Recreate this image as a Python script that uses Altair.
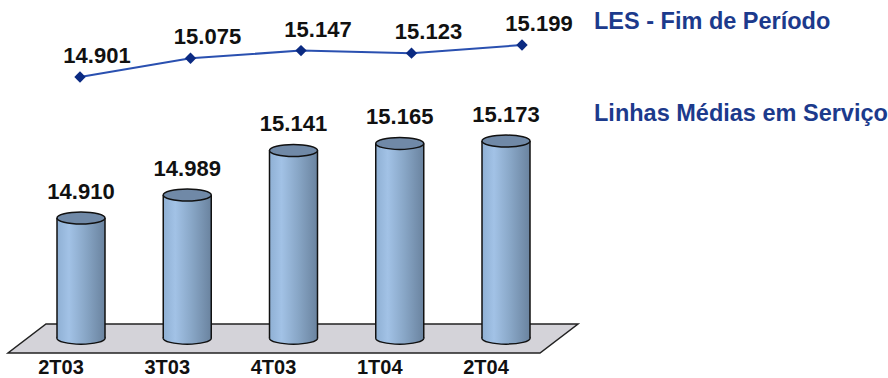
import altair as alt
import pandas as pd

# ---- data ----
periods = ["2T03", "3T03", "4T03", "1T04", "2T04"]
les_fim = [14901, 15075, 15147, 15123, 15199]          # LES - Fim de Período (line)
linhas_medias = [14910, 14989, 15141, 15165, 15173]    # Linhas Médias em Serviço (bars)
series_names = ["LES - Fim de Período", "Linhas Médias em Serviço"]

def fmt(v):
    return f"{v:,}".replace(",", ".")

df = pd.DataFrame({
    "periodo": periods,
    "les": les_fim,
    "lms": linhas_medias,
    "les_lbl": [fmt(v) for v in les_fim],
    "lms_lbl": [fmt(v) for v in linhas_medias],
})

FONT = "Liberation Sans"
NAVY = "#1c3a8c"
FLOOR_V = 14500  # bar baseline value (floor level)

y_bar_scale = alt.Scale(domain=[14480, 15500], range=[344, 45.3])
x_bar_scale = alt.Scale(type="point", domain=periods, range=[81, 506], padding=0)

x_bar = alt.X("periodo:N", sort=periods, axis=None, scale=x_bar_scale)
x_cat = alt.X("periodo:N", sort=periods, axis=None,
              scale=alt.Scale(type="point", domain=periods, range=[61, 486], padding=0))
x_line = alt.X("periodo:N", sort=periods, axis=None,
               scale=alt.Scale(type="point", domain=periods, range=[80, 522], padding=0))
y_bar = alt.Y("lms:Q", axis=None, scale=y_bar_scale)
y_floor = alt.Y(datum=FLOOR_V, axis=None, scale=y_bar_scale)
y2_floor = alt.Y2(datum=FLOOR_V)
y_line = alt.Y("les:Q", axis=None, scale=alt.Scale(domain=[14500, 15500], range=[120.06, 12.68]))

BAR_W = 48
ellipse = "M-1,0 A1,0.25 0 1,0 1,0 A1,0.25 0 1,0 -1,0 Z"
floor_shape = "M-0.8667,-0.0509 L1,-0.0509 L0.8667,0.0509 L-1,0.0509 Z"

grad = alt.Gradient(
    gradient="linear", x1=0, x2=1, y1=0, y2=0,
    stops=[alt.GradientStop(offset=0, color="#8fb0d4"),
           alt.GradientStop(offset=0.25, color="#a2c2e6"),
           alt.GradientStop(offset=0.6, color="#88a6c6"),
           alt.GradientStop(offset=1, color="#6a839f")],
)

base = alt.Chart(df)

floor = alt.Chart(pd.DataFrame({"f": [0]})).mark_point(
    shape=floor_shape, filled=True, fill="#d4d3d9", stroke="#222222",
    strokeWidth=1.5, opacity=1, size=324900,
).encode(x=alt.value(293), y=alt.value(338.5))

bottom = base.mark_point(
    shape=ellipse, filled=True, fill=grad, stroke="#111111", strokeWidth=1.5,
    opacity=1, size=BAR_W * BAR_W,
).encode(x=x_bar, y=y_floor)

body = base.mark_bar(width=BAR_W, fill=grad, strokeWidth=0).encode(
    x=x_bar, y=y_bar, y2=y2_floor)

side_l = base.mark_rule(xOffset=-BAR_W / 2, color="#111111", strokeWidth=1.5).encode(
    x=x_bar, y=y_bar, y2=y2_floor)
side_r = base.mark_rule(xOffset=BAR_W / 2, color="#111111", strokeWidth=1.5).encode(
    x=x_bar, y=y_bar, y2=y2_floor)

top = base.mark_point(
    shape=ellipse, filled=True, fill="#7089a7", stroke="#111111", strokeWidth=1.5,
    opacity=1, size=BAR_W * BAR_W,
).encode(x=x_bar, y=y_bar)

bar_lbl = base.mark_text(font=FONT, fontWeight="bold", fontSize=22, color="#111111",
                         dy=-26, baseline="middle").encode(
    x=x_bar, y=y_bar, text="lms_lbl:N")

cat_lbl = base.mark_text(font=FONT, fontWeight="bold", fontSize=20, color="#111111",
                         baseline="middle").encode(
    x=x_cat, y=alt.value(368), text="periodo:N")

line = base.mark_line(color="#2a50b0", strokeWidth=2).encode(x=x_line, y=y_line)
pts = base.mark_point(shape="diamond", filled=True, color="#0b2a82", opacity=1,
                      size=130).encode(x=x_line, y=y_line)
line_lbl = base.mark_text(font=FONT, fontWeight="bold", fontSize=22, color="#111111",
                          dx=17, dy=-21, baseline="middle").encode(
    x=x_line, y=y_line, text="les_lbl:N")

leg1 = alt.Chart(pd.DataFrame({"s": [series_names[0]]})).mark_text(
    font=FONT, fontWeight="bold", fontSize=23.5, color=NAVY, align="left", baseline="middle"
).encode(x=alt.value(594), y=alt.value(22), text="s:N")
leg2 = alt.Chart(pd.DataFrame({"s": [series_names[1]]})).mark_text(
    font=FONT, fontWeight="bold", fontSize=23.5, color=NAVY, align="left", baseline="middle"
).encode(x=alt.value(594), y=alt.value(114), text="s:N")

chart = alt.layer(
    floor, bottom, body, side_l, side_r, top, bar_lbl, cat_lbl,
    line, pts, line_lbl, leg1, leg2,
).resolve_scale(x="independent", y="independent").properties(
    width=888, height=378, padding=0, autosize="none", background="white"
).configure_view(stroke=None)

chart.save("out.html", embed_options={"renderer": "svg", "actions": False})
